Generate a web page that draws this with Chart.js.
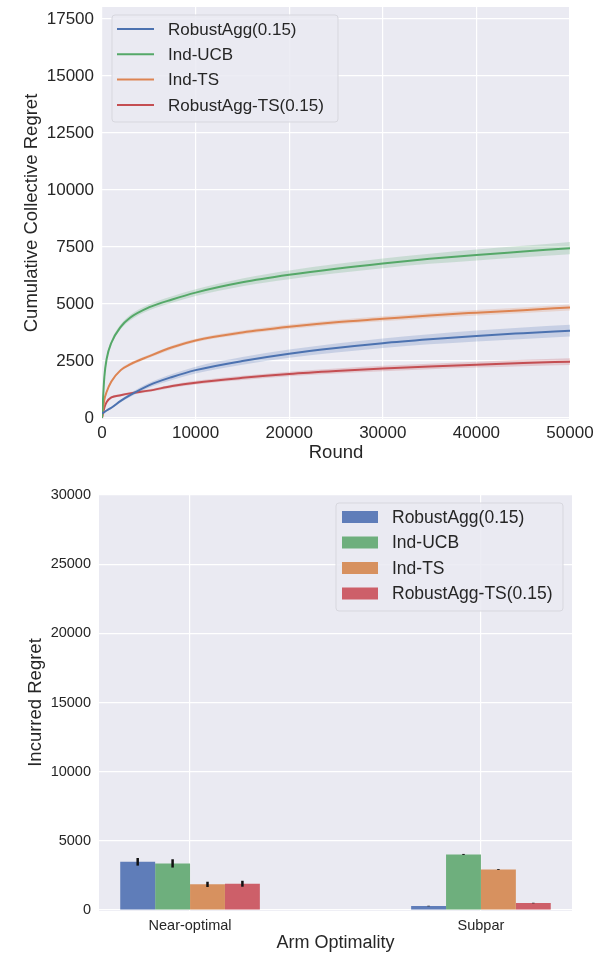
<!DOCTYPE html>
<html><head><meta charset="utf-8">
<script src="https://cdn.jsdelivr.net/npm/chart.js@4.4.0/dist/chart.umd.min.js"></script>
<style>
html,body{margin:0;padding:0;background:#fff;width:612px;height:954px;overflow:hidden;}
#c1{position:absolute;left:0;top:0;}
#c2{position:absolute;left:0;top:470px;}
</style></head><body>
<canvas id="c1" width="612" height="470"></canvas>
<canvas id="c2" width="612" height="484"></canvas>
<script>
// ---------- Top chart data ----------
const rounds = [0,250,500,1000,2000,3000,5000,7500,10000,15000,20000,25000,30000,35000,40000,45000,50000];
const robustAgg       = [200,260,330,450,750,1000,1430,1800,2100,2500,2820,3070,3280,3450,3600,3720,3830];
const indUCB          = [0,1800,2600,3300,4000,4400,4850,5200,5500,5950,6280,6550,6780,6980,7150,7300,7450];
const indTS           = [0,800,1150,1600,2100,2350,2700,3100,3400,3750,4000,4200,4350,4500,4620,4730,4850];
const robustAggTS     = [0,450,700,900,1000,1080,1200,1400,1550,1760,1930,2060,2170,2260,2340,2410,2470];
const robustAggSpread   = [0,20,30,40,60,80,100,130,150,170,180,200,210,220,240,250,260];
const indUCBSpread      = [0,60,80,100,110,120,130,140,150,170,190,200,210,220,240,250,270];
const indTSSpread       = [0,40,50,60,60,70,70,80,80,90,100,100,110,110,120,120,130];
const robustAggTSSpread = [0,30,40,50,50,60,60,70,80,90,100,110,120,120,130,140,150];
const topXTicks = [0,10000,20000,30000,40000,50000];
const topYTicks = [0,2500,5000,7500,10000,12500,15000,17500];

// ---------- Bottom chart data ----------
const categories = ['Near-optimal','Subpar'];
const barRobustAgg   = [3485, 290];
const barIndUCB      = [3370, 4020];
const barIndTS       = [1855, 2935];
const barRobustAggTS = [1900, 505];
const errRobustAgg   = [275, 20];
const errIndUCB      = [300, 35];
const errIndTS       = [190, 30];
const errRobustAggTS = [215, 20];
const bottomYTicks = [0,5000,10000,15000,20000,25000,30000];

const seriesNames = ['RobustAgg(0.15)','Ind-UCB','Ind-TS','RobustAgg-TS(0.15)'];
const lineColors = ['#4C72B0','#55A868','#DD8452','#C44E52'];
const bandColors = ['rgba(76,114,176,0.22)','rgba(85,168,104,0.22)','rgba(221,132,82,0.22)','rgba(196,78,82,0.22)'];
const barColors = ['#5F7DB9','#6EAF7D','#D7915F','#CD5F69'];

const FONT = "'Liberation Sans', Arial, sans-serif";
const TXT = '#262626';
Chart.defaults.font.family = FONT;
Chart.defaults.color = TXT;

const bgPlugin = {
  id: 'bgPlugin',
  beforeDraw(chart) {
    const a = chart.chartArea, ctx = chart.ctx;
    ctx.save();
    ctx.fillStyle = '#EAEAF2';
    ctx.fillRect(a.left, a.top, a.right - a.left, a.bottom - a.top);
    ctx.restore();
  }
};

function rr(ctx, x, y, w, h, r) {
  ctx.beginPath();
  ctx.moveTo(x + r, y);
  ctx.lineTo(x + w - r, y); ctx.quadraticCurveTo(x + w, y, x + w, y + r);
  ctx.lineTo(x + w, y + h - r); ctx.quadraticCurveTo(x + w, y + h, x + w - r, y + h);
  ctx.lineTo(x + r, y + h); ctx.quadraticCurveTo(x, y + h, x, y + h - r);
  ctx.lineTo(x, y + r); ctx.quadraticCurveTo(x, y, x + r, y);
  ctx.closePath();
}

const boxLegend = {
  id: 'boxLegend',
  afterDraw(chart, args, o) {
    const ctx = chart.ctx;
    const items = chart.data.datasets.filter(d => d.inLegend);
    ctx.save();
    rr(ctx, o.x, o.y, o.w, o.h, 3);
    ctx.fillStyle = 'rgba(234,234,242,0.85)';
    ctx.fill();
    ctx.strokeStyle = 'rgba(215,215,222,1)';
    ctx.lineWidth = 1;
    ctx.stroke();
    items.forEach((d, i) => {
      const y = o.y0 + i * o.rowH;
      if (o.kind === 'line') {
        ctx.strokeStyle = d.borderColor; ctx.lineWidth = 2;
        ctx.beginPath(); ctx.moveTo(o.mx0, y); ctx.lineTo(o.mx1, y); ctx.stroke();
      } else {
        ctx.fillStyle = d.backgroundColor;
        ctx.fillRect(o.mx0, y - 6, o.mx1 - o.mx0, 12);
      }
      ctx.fillStyle = TXT;
      ctx.font = o.font + 'px ' + FONT;
      ctx.textBaseline = 'middle';
      ctx.textAlign = 'left';
      ctx.fillText(d.label, o.tx, y + 1);
    });
    ctx.restore();
  }
};

const errorBars = {
  id: 'errorBars',
  afterDatasetsDraw(chart) {
    const ctx = chart.ctx, ys = chart.scales.y;
    ctx.save();
    ctx.strokeStyle = '#111';
    ctx.lineWidth = 2.5;
    chart.data.datasets.forEach((ds, i) => {
      if (!ds.errors) return;
      const meta = chart.getDatasetMeta(i);
      meta.data.forEach((bar, j) => {
        const v = ds.data[j].y, e = ds.errors[j];
        ctx.beginPath();
        ctx.moveTo(bar.x, ys.getPixelForValue(v - e));
        ctx.lineTo(bar.x, ys.getPixelForValue(v + e));
        ctx.stroke();
      });
    });
    ctx.restore();
  }
};

// ---------- Top chart ----------
const means = [robustAgg, indUCB, indTS, robustAggTS];
const spreads = [robustAggSpread, indUCBSpread, indTSSpread, robustAggTSSpread];
const topDatasets = [];
means.forEach((m, k) => {
  topDatasets.push({
    label: seriesNames[k], inLegend: true,
    data: rounds.map((r, i) => ({x: r, y: m[i]})),
    borderColor: lineColors[k], borderWidth: 2, pointRadius: 0,
    cubicInterpolationMode: 'monotone', fill: false
  });
});
means.forEach((m, k) => {
  const upIdx = topDatasets.length;
  topDatasets.push({
    label: seriesNames[k] + ' upper',
    data: rounds.map((r, i) => ({x: r, y: m[i] + spreads[k][i]})),
    borderWidth: 0, borderColor: 'rgba(0,0,0,0)', pointRadius: 0,
    cubicInterpolationMode: 'monotone', fill: false
  });
  topDatasets.push({
    label: seriesNames[k] + ' lower',
    data: rounds.map((r, i) => ({x: r, y: m[i] - spreads[k][i]})),
    borderWidth: 0, borderColor: 'rgba(0,0,0,0)', pointRadius: 0,
    cubicInterpolationMode: 'monotone', fill: upIdx, backgroundColor: bandColors[k]
  });
});

new Chart(document.getElementById('c1'), {
  type: 'line',
  data: { datasets: topDatasets },
  plugins: [bgPlugin, boxLegend],
  options: {
    responsive: false, animation: false,
    layout: { padding: { top: 7, right: 42, left: 0, bottom: 0 } },
    plugins: {
      legend: { display: false }, tooltip: { enabled: false },
      boxLegend: { x: 112, y: 15, w: 226, h: 107, y0: 29, rowH: 25.3, mx0: 117, mx1: 154, tx: 168, font: 17, kind: 'line' }
    },
    scales: {
      x: {
        type: 'linear', min: 0, max: 50000,
        afterBuildTicks: s => { s.ticks = topXTicks.map(v => ({value: v})); },
        afterFit: s => { s.height = 51; },
        ticks: { callback: v => String(v), font: { size: 17 }, padding: 4, color: TXT, maxRotation: 0 },
        grid: { color: '#FFFFFF', lineWidth: 1.2, drawTicks: false },
        border: { display: false },
        title: { display: true, text: 'Round', font: { size: 18.5 }, color: TXT, padding: { top: 0, bottom: 6 } }
      },
      y: {
        type: 'linear', min: -44, max: 18026,
        afterBuildTicks: s => { s.ticks = topYTicks.map(v => ({value: v})); },
        afterFit: s => { s.width = 102; },
        ticks: { callback: v => String(v), font: { size: 17, lineHeight: 0.8 }, padding: 0, color: TXT },
        grid: { color: '#FFFFFF', lineWidth: 1.2, drawTicks: true, tickLength: 8, tickColor: 'rgba(0,0,0,0)' },
        border: { display: false },
        title: { display: true, text: 'Cumulative Collective Regret', font: { size: 18.5 }, color: TXT, padding: { top: 21, bottom: 0 } }
      }
    }
  }
});

// ---------- Bottom chart ----------
const barSeries = [barRobustAgg, barIndUCB, barIndTS, barRobustAggTS];
const barErrs = [errRobustAgg, errIndUCB, errIndTS, errRobustAggTS];
const bottomDatasets = barSeries.map((vals, k) => ({
  label: seriesNames[k], inLegend: true,
  data: vals.map((v, i) => ({x: i, y: v})),
  errors: barErrs[k],
  backgroundColor: barColors[k], borderWidth: 0,
  categoryPercentage: 0.48, barPercentage: 1.0
}));

new Chart(document.getElementById('c2'), {
  type: 'bar',
  data: { datasets: bottomDatasets },
  plugins: [bgPlugin, errorBars, boxLegend],
  options: {
    responsive: false, animation: false,
    layout: { padding: { top: 24, right: 40, left: 0, bottom: 0 } },
    plugins: {
      legend: { display: false }, tooltip: { enabled: false },
      boxLegend: { x: 336, y: 33, w: 227, h: 108, y0: 47, rowH: 25.5, mx0: 342, mx1: 378, tx: 392, font: 17.5, kind: 'patch' }
    },
    scales: {
      x: {
        type: 'linear', min: -0.313, max: 1.313, offset: false,
        afterBuildTicks: s => { s.ticks = categories.map((c, i) => ({value: i})); },
        afterFit: s => { s.height = 43; },
        ticks: { callback: v => categories[v], font: { size: 14.5 }, padding: 6, color: TXT, maxRotation: 0 },
        grid: { color: '#FFFFFF', lineWidth: 1.2, drawTicks: false, offset: false },
        border: { display: false },
        title: { display: true, text: 'Arm Optimality', font: { size: 18 }, color: TXT, padding: { top: 0, bottom: 0 } }
      },
      y: {
        type: 'linear', min: -70, max: 30070,
        afterBuildTicks: s => { s.ticks = bottomYTicks.map(v => ({value: v})); },
        afterFit: s => { s.width = 99; },
        ticks: { callback: v => String(v), font: { size: 14.5 }, padding: 0, color: TXT },
        grid: { color: '#FFFFFF', lineWidth: 1.2, drawTicks: true, tickLength: 8, tickColor: 'rgba(0,0,0,0)' },
        border: { display: false },
        title: { display: true, text: 'Incurred Regret', font: { size: 18.5 }, color: TXT, padding: { top: 25, bottom: 0 } }
      }
    }
  }
});
</script>
</body></html>
